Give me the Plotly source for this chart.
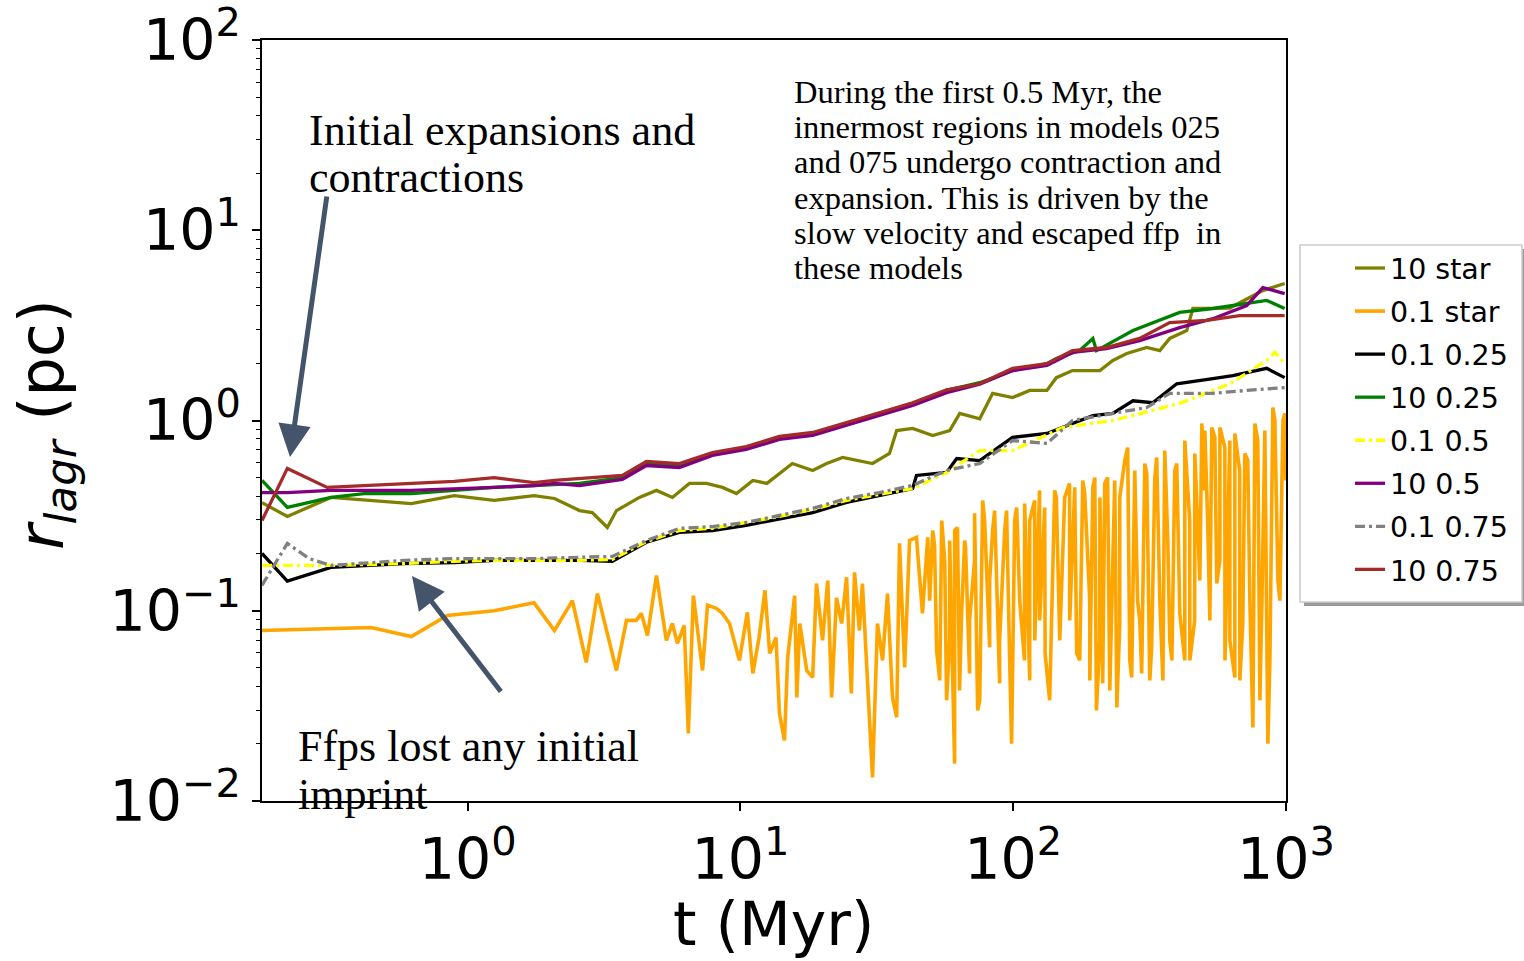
import plotly.graph_objects as go

# ---------------- data (t in Myr, r_lagr in pc) ----------------
t_10star = [0.176, 0.218, 0.315, 0.621, 0.892, 1.25, 1.75, 2.08, 2.57, 2.86, 3.25, 3.51, 4.26, 4.92,
            5.63, 6.50, 7.50, 8.59, 9.67, 11.1, 12.5, 13.9, 15.5, 18.4, 20.7, 23.7, 26.6, 30.5, 35.2,
            37.4, 42.8, 50.7, 58.5, 63.7, 75.4, 84.1, 99.5, 115, 133, 144, 165, 208, 232, 261, 309,
            345, 375, 433, 456, 623, 823, 990]
r_10star = [0.37, 0.313, 0.394, 0.366, 0.403, 0.380, 0.403, 0.389, 0.336, 0.328, 0.274, 0.336, 0.394,
            0.429, 0.394, 0.467, 0.467, 0.445, 0.413, 0.484, 0.467, 0.526, 0.594, 0.546, 0.594, 0.639,
            0.616, 0.594, 0.671, 0.886, 0.908, 0.834, 0.886, 1.09, 1.02, 1.39, 1.32, 1.44, 1.44, 1.68,
            1.83, 1.83, 2.07, 2.25, 2.42, 2.33, 2.70, 2.97, 3.88, 3.90, 4.82, 5.25]

t_01star = [0.176, 0.315, 0.442, 0.621, 0.841, 1.25, 1.75, 2.08, 2.42, 2.72, 2.99, 3.51, 3.82, 4.15,
            4.33, 4.56, 4.92, 5.35, 5.63, 5.87, 6.22, 6.44, 6.72, 7.26, 7.57, 8.16, 8.59, 9.12, 9.91,
            10.6, 11.1, 11.7, 12.3, 12.8, 13.5, 13.9, 14.5, 14.9, 15.8, 16.1, 16.5, 17.5, 18.4, 19.0,
            20.0, 20.9, 21.6, 22.5, 23.5, 24.5, 25.5, 26.2, 27.3, 28.0, 29.3, 30.5, 31.8, 33.2, 34.6,
            36.1, 37.4, 38.3, 40.0, 41.7, 44.2, 46.5, 48.6, 50.7, 52.4, 54.7, 57.0, 58.5, 61.0, 62.5,
            64.7, 66.9, 69.2, 72.2, 74.1, 77.3, 82.0, 84.1, 89.2, 94.6, 98.7, 103, 110, 115, 120, 125,
            131, 144, 152, 161, 171, 180, 191, 196, 202, 208, 213, 222, 240, 246, 263, 272, 286, 296,
            309, 322, 336, 354, 369, 382, 398, 426, 444, 463, 492, 504, 517, 535, 558, 573, 598, 623,
            650, 677, 695, 725, 757, 789, 817, 859, 896, 935, 976, 1000]
r_01star = [0.0787, 0.0807, 0.0816, 0.0732, 0.0944, 0.100, 0.110, 0.0787, 0.113, 0.0535, 0.123, 0.0485,
            0.0889, 0.0889, 0.0968, 0.0741, 0.153, 0.0698, 0.0857, 0.0673, 0.0836, 0.0226, 0.120,
            0.0485, 0.107, 0.103, 0.0968, 0.0857, 0.0548, 0.098, 0.0468, 0.0723, 0.128, 0.0596, 0.0723,
            0.0288, 0.0208, 0.0568, 0.120, 0.0350, 0.0857, 0.0485, 0.0446, 0.139, 0.0698, 0.144, 0.0350,
            0.117, 0.0857, 0.150, 0.0367, 0.159, 0.0787, 0.139, 0.0430, 0.0133, 0.0857, 0.0548, 0.123,
            0.0350, 0.0275, 0.226, 0.0503, 0.234, 0.243, 0.0968, 0.243, 0.264, 0.0618, 0.298, 0.0338,
            0.234, 0.0157, 0.274, 0.0968, 0.215, 0.0468, 0.325, 0.0299, 0.380, 0.0641, 0.264, 0.0415,
            0.336, 0.0200, 0.349, 0.0548, 0.298, 0.0698, 0.429, 0.0596, 0.394, 0.215, 0.467, 0.0596,
            0.484, 0.0430, 0.445, 0.0299, 0.394, 0.0415, 0.501, 0.0310, 0.394, 0.721, 0.0446, 0.113,
            0.0468, 0.526, 0.0641, 0.639, 0.0430, 0.234, 0.0548, 0.594, 0.0548, 0.298, 0.0889, 0.965,
            0.429, 0.288, 0.919, 0.139, 0.919, 0.0548, 0.785, 0.0446, 0.546, 0.0857, 0.616, 0.0243,
            0.785, 0.113, 0.0200, 1.17, 0.144, 1.00, 0.484]
# additional late-time snapshots of the 0.1 star model (dense fluctuating band)
t_01star_late = [49.4, 51.5, 53.8, 56.1, 58.5, 61.0, 63.6, 66.4, 69.2, 72.2, 75.4, 78.6, 82.0, 85.5,
                 89.2, 93.1, 97.1, 101.3, 105.7, 110.2, 115.0, 119.9, 125.1, 130.5, 136.1, 142.0,
                 148.2, 154.5, 161.2, 168.2, 175.4, 183.0, 190.9, 199.2, 207.7, 216.7, 226.1, 235.8,
                 246.0, 256.6, 267.7, 279.2, 291.3, 303.9, 317.0, 330.7, 345.0, 359.7, 375.3, 391.5,
                 408.4, 426.0, 444.5, 463.6, 483.7, 504.5, 526.3, 549.0, 572.8, 597.4, 623.3, 650.1,
                 678.2, 707.4, 738.0, 769.8, 803.1, 837.5, 873.8, 911.3, 950.8, 991.7]
r_01star_late = [0.113, 0.220, 0.0430, 0.184, 0.0698, 0.264, 0.0381, 0.234, 0.0889, 0.184, 0.0338,
                 0.298, 0.144, 0.336, 0.0698, 0.264, 0.0548, 0.298, 0.113, 0.366, 0.0430, 0.380,
                 0.0889, 0.349, 0.0338, 0.429, 0.0698, 0.394, 0.0889, 0.445, 0.0548, 0.413, 0.113,
                 0.501, 0.0698, 0.467, 0.0381, 0.484, 0.0857, 0.616, 0.0548, 0.546, 0.0889, 0.594,
                 0.0430, 0.501, 0.113, 0.695, 0.0698, 0.546, 0.0968, 0.785, 0.0548, 0.671, 0.144,
                 0.886, 0.0889, 0.815, 0.184, 0.721, 0.0698, 0.855, 0.0430, 0.671, 0.113, 0.965,
                 0.0338, 0.886, 0.0548, 1.00, 0.113, 1.09]

t_01_025 = [0.176, 0.218, 0.315, 0.585, 0.892, 1.25, 1.75, 2.57, 3.39, 4.52, 5.97, 7.89, 10.5, 13.9,
            18.4, 24.5, 32.3, 42.8, 44.2, 57.0, 62.1, 75.4, 99.5, 133, 165, 196, 232, 275, 325, 398,
            540, 639, 851, 990]
r_01_025 = [0.200, 0.143, 0.169, 0.177, 0.179, 0.184, 0.184, 0.184, 0.182, 0.229, 0.258, 0.264, 0.281,
            0.305, 0.328, 0.371, 0.403, 0.439, 0.514, 0.533, 0.631, 0.616, 0.815, 0.855, 0.965, 1.06,
            1.09, 1.27, 1.24, 1.56, 1.66, 1.72, 1.88, 1.68]

t_10_025 = [0.176, 0.218, 0.315, 0.417, 0.621, 0.892, 1.25, 1.75, 2.57, 3.69, 4.52, 5.97, 7.89, 10.5,
            13.9, 18.4, 24.5, 32.3, 42.8, 57.0, 75.4, 99.5, 133, 144, 175, 196, 202, 275, 408, 540,
            851, 990]
r_10_025 = [0.484, 0.349, 0.394, 0.413, 0.413, 0.429, 0.445, 0.455, 0.467, 0.501, 0.594, 0.580, 0.671,
            0.721, 0.815, 0.855, 0.965, 1.09, 1.23, 1.44, 1.58, 1.83, 1.99, 2.12, 2.33, 2.70, 2.33,
            2.97, 3.70, 3.88, 4.28, 3.88]

t_01_05 = [0.176, 0.315, 0.585, 0.892, 1.25, 1.75, 2.57, 3.39, 4.52, 5.97, 7.89, 10.5, 13.9, 18.4,
           24.5, 32.3, 42.8, 57.0, 75.4, 99.5, 152, 232, 408, 623, 851, 912, 990]
r_01_05 = [0.173, 0.173, 0.177, 0.182, 0.184, 0.184, 0.184, 0.186, 0.231, 0.264, 0.271, 0.291, 0.313,
           0.341, 0.380, 0.409, 0.439, 0.533, 0.695, 0.695, 0.919, 1.00, 1.23, 1.56, 2.07, 2.28, 1.99]

t_10_05 = [0.176, 0.218, 0.315, 0.621, 1.25, 1.75, 2.08, 2.57, 3.69, 4.52, 5.97, 7.89, 10.5, 13.9,
           18.4, 24.5, 32.3, 42.8, 57.0, 75.4, 99.5, 133, 165, 220, 291, 408, 540, 719, 823, 990]
r_10_05 = [0.418, 0.418, 0.429, 0.429, 0.445, 0.455, 0.467, 0.455, 0.490, 0.580, 0.566, 0.655, 0.704,
           0.795, 0.834, 0.941, 1.06, 1.20, 1.40, 1.55, 1.83, 1.95, 2.28, 2.39, 2.63, 3.08, 3.43,
           4.02, 5.00, 4.65]

t_01_075 = [0.176, 0.218, 0.262, 0.315, 0.585, 0.892, 1.25, 1.75, 2.57, 3.39, 4.52, 5.97, 7.89, 10.5,
            13.9, 18.4, 24.5, 32.3, 42.8, 57.0, 75.4, 99.5, 133, 165, 232, 309, 375, 540, 719, 990]
r_01_075 = [0.136, 0.226, 0.188, 0.173, 0.184, 0.188, 0.188, 0.188, 0.191, 0.193, 0.234, 0.271, 0.277,
            0.291, 0.317, 0.345, 0.389, 0.418, 0.456, 0.546, 0.594, 0.785, 0.757, 1.00, 1.09, 1.17,
            1.39, 1.39, 1.44, 1.49]

t_10_075 = [0.176, 0.218, 0.305, 0.442, 0.621, 0.892, 1.25, 1.75, 2.08, 2.57, 3.69, 4.52, 5.97, 7.89,
            10.5, 13.9, 18.4, 24.5, 32.3, 42.8, 57.0, 75.4, 99.5, 133, 165, 220, 291, 375, 513, 677, 990]
r_10_075 = [0.298, 0.560, 0.445, 0.455, 0.467, 0.478, 0.501, 0.472, 0.484, 0.496, 0.514, 0.609, 0.594,
            0.679, 0.730, 0.824, 0.865, 0.976, 1.10, 1.24, 1.45, 1.56, 1.88, 1.99, 2.33, 2.42, 2.70,
            3.27, 3.36, 3.56, 3.56]

x_tickvals = [1, 10, 100, 1000]
x_ticktext = ["10<sup>0</sup>", "10<sup>1</sup>", "10<sup>2</sup>", "10<sup>3</sup>"]
y_tickvals = [0.01, 0.1, 1, 10, 100]
y_ticktext = ["10<sup>\u22122</sup>", "10<sup>\u22121</sup>", "10<sup>0</sup>", "10<sup>1</sup>",
              "10<sup>2</sup>"]

# merge the two sets of 0.1 star snapshots in time order
pairs = sorted(zip(t_01star + t_01star_late, r_01star + r_01star_late))
t_01star_all = [p[0] for p in pairs]
r_01star_all = [p[1] for p in pairs]

series = [
    ("10 star", t_10star, r_10star, "#808000", "solid", 3.3),
    ("0.1 star", t_01star_all, r_01star_all, "#FFA500", "solid", 3.6),
    ("0.1 0.25", t_01_025, r_01_025, "#000000", "solid", 3.3),
    ("10 0.25", t_10_025, r_10_025, "#008000", "solid", 3.3),
    ("0.1 0.5", t_01_05, r_01_05, "#FFFF00", "10px,4px,3px,4px", 3.3),
    ("10 0.5", t_10_05, r_10_05, "#800080", "solid", 3.3),
    ("0.1 0.75", t_01_075, r_01_075, "#808080", "10px,4px,3px,4px", 3.3),
    ("10 0.75", t_10_075, r_10_075, "#A52A2A", "solid", 3.3),
]

# ---------------- figure ----------------
fig = go.Figure()
for name, t, r, col, dash, wdt in series:
    fig.add_trace(go.Scatter(x=t, y=r, mode="lines", name=name, legendgroup=name,
                             line=dict(color=col, width=wdt, dash=dash)))

L, R, T, B = 262, 1286, 40, 801
W, H = 1524, 961


def px(xp):
    return (xp - L) / (R - L)


def py(yp):
    return (B - yp) / (B - T)


serif = "Liberation Serif"
ann = []
for txt, xp, yp in [("Initial expansions and", 307, 130), ("contractions", 307, 177),
                    ("Ffps lost any initial", 296, 746), ("imprint", 296, 794)]:
    ann.append(dict(text=txt, x=px(xp), y=py(yp), xref="paper", yref="paper", xanchor="left",
                    yanchor="middle", showarrow=False, font=dict(family=serif, size=44, color="black")))
para = ["During the first 0.5 Myr, the", "innermost regions in models 025",
        "and 075 undergo contraction and", "expansion. This is driven by the",
        "slow velocity and escaped ffp\u00a0 in", "these models"]
for k, line in enumerate(para):
    ann.append(dict(text=line, x=px(792), y=py(92 + 35.2 * k), xref="paper", yref="paper",
                    xanchor="left", yanchor="middle", showarrow=False,
                    font=dict(family=serif, size=32.5, color="black")))
arrow_col = "#44546A"
ann.append(dict(text="", x=px(290), y=py(457), xref="paper", yref="paper", showarrow=True,
                ax=37, ay=-262, axref="pixel", ayref="pixel", arrowhead=2, arrowsize=1.3,
                arrowwidth=5, arrowcolor=arrow_col, standoff=0))
ann.append(dict(text="", x=px(412), y=py(576), xref="paper", yref="paper", showarrow=True,
                ax=90, ay=117, axref="pixel", ayref="pixel", arrowhead=2, arrowsize=1.3,
                arrowwidth=5, arrowcolor=arrow_col, standoff=0))
ann.append(dict(text="<i>r</i><sub><i>lagr</i></sub> (pc)", x=px(45), y=py(425), xref="paper",
                yref="paper", xanchor="center", yanchor="middle", textangle=-90, showarrow=False,
                font=dict(family="DejaVu Sans", size=62, color="black")))
ann.append(dict(text="t (Myr)", x=px(773), y=py(924), xref="paper", yref="paper", xanchor="center",
                yanchor="middle", showarrow=False,
                font=dict(family="DejaVu Sans", size=60, color="black")))

shapes = [
    dict(type="rect", xref="paper", yref="paper", x0=px(1304), x1=px(1526), y0=py(606), y1=py(249),
         fillcolor="#9a9a9a", line=dict(width=0), layer="below"),
    dict(type="rect", xref="paper", yref="paper", x0=px(1300), x1=px(1522), y0=py(602), y1=py(245),
         fillcolor="white", line=dict(color="#cccccc", width=1.5), layer="below"),
]

minor_vals = [m * 10 ** e for e in (-2, -1, 0, 1) for m in range(2, 10)]

tickfont = dict(family="DejaVu Sans", size=57, color="black")
fig.update_layout(
    width=W, height=H,
    margin=dict(l=L, r=W - R, t=T, b=H - B, autoexpand=False),
    paper_bgcolor="white", plot_bgcolor="white",
    showlegend=True,
    legend=dict(x=px(1350), y=py(243), xanchor="left", yanchor="top", bgcolor="rgba(0,0,0,0)",
                borderwidth=0, font=dict(family="DejaVu Sans", size=28.5, color="black"),
                tracegroupgap=3),
    annotations=ann,
    shapes=shapes,
    xaxis=dict(type="log", range=[-0.7545, 3.0005], tickmode="array", tickvals=x_tickvals,
               ticktext=x_ticktext, showline=True, linecolor="black", linewidth=1.5, mirror=True,
               ticks="outside", ticklen=8, tickwidth=1.5, tickcolor="black", showgrid=False,
               zeroline=False, tickfont=tickfont, ticklabeloverflow="allow"),
    yaxis=dict(type="log", range=[-2.0005, 2.0005], tickmode="array", tickvals=y_tickvals,
               ticktext=y_ticktext, showline=True, linecolor="black", linewidth=1.5, mirror=True,
               ticks="outside", ticklen=8, tickwidth=1.5, tickcolor="black", showgrid=False,
               zeroline=False, tickfont=tickfont, ticklabeloverflow="allow",
               minor=dict(tickmode="array", tickvals=minor_vals, ticks="outside", ticklen=4,
                          tickwidth=1, tickcolor="black", showgrid=False)),
)

fig.write_html("out.html")
